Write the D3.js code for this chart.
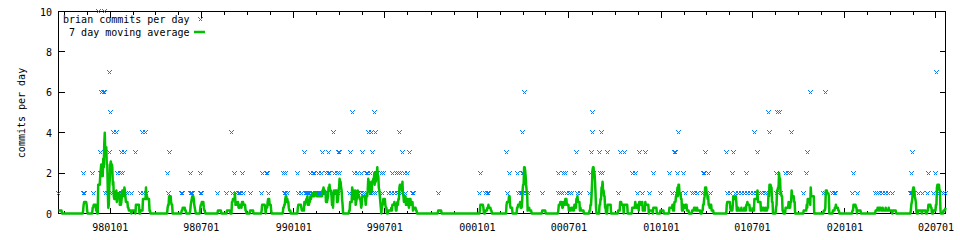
<!DOCTYPE html>
<html><head><meta charset="utf-8">
<script src="https://cdn.jsdelivr.net/npm/d3@7"></script>
<style>
html,body{margin:0;padding:0;background:#fff;}
svg{display:block;}
text{font-family:"DejaVu Sans Mono",monospace;font-size:10px;fill:#000;}
</style></head><body>
<svg id="chart" width="960" height="240"></svg>
<script>
// ---- data ----
const commitDates = [
"1997-09-20","1997-11-08","1997-11-09","1997-11-10","1997-11-27","1997-11-29",
"1997-12-08","1997-12-12","1997-12-13","1997-12-14","1997-12-15","1997-12-18","1997-12-20","1997-12-21","1997-12-23","1997-12-27","1997-12-29","1997-12-30","1997-12-31",
"1998-01-01","1998-01-02","1998-01-06","1998-01-07","1998-01-13","1998-01-15","1998-01-17","1998-01-21","1998-01-23","1998-01-24","1998-01-25","1998-01-29","1998-01-31",
"1998-02-05","1998-02-13","1998-02-21","1998-03-02","1998-03-07","1998-03-09","1998-03-13","1998-03-15",
"1998-04-25","1998-04-26","1998-04-28","1998-05-23","1998-05-25","1998-06-09","1998-06-10","1998-06-11","1998-06-12","1998-06-13","1998-06-29","1998-06-30",
"1998-07-02","1998-08-03","1998-08-21","1998-08-31","1998-09-02","1998-09-06","1998-09-08","1998-09-12","1998-09-14","1998-09-16","1998-09-20","1998-09-22",
"1998-10-06","1998-10-29","1998-10-30","1998-11-07","1998-11-10","1998-11-11","1998-12-11","1998-12-13","1998-12-15","1998-12-16","1998-12-19",
"1999-01-09","1999-01-10","1999-01-16","1999-01-22","1999-01-24","1999-01-26","1999-01-28","1999-01-30",
"1999-02-01","1999-02-02","1999-02-03","1999-02-05","1999-02-06","1999-02-07","1999-02-09","1999-02-10","1999-02-12","1999-02-13","1999-02-14","1999-02-16","1999-02-17","1999-02-19","1999-02-20","1999-02-21","1999-02-23","1999-02-24","1999-02-26","1999-02-27","1999-02-28",
"1999-03-01","1999-03-03","1999-03-05","1999-03-07","1999-03-09","1999-03-10","1999-03-11","1999-03-13","1999-03-16","1999-03-19","1999-03-21","1999-03-22","1999-03-25","1999-03-27","1999-03-29","1999-03-30","1999-03-31",
"1999-04-01","1999-04-02","1999-04-21","1999-04-23","1999-04-27",
"1999-05-02","1999-05-03","1999-05-05","1999-05-06","1999-05-07","1999-05-08","1999-05-09","1999-05-13","1999-05-16","1999-05-17","1999-05-20","1999-05-23","1999-05-24","1999-05-25","1999-05-26","1999-05-28","1999-05-29",
"1999-06-02","1999-06-03","1999-06-04","1999-06-05","1999-06-06","1999-06-08","1999-06-10","1999-06-12","1999-06-13","1999-06-14","1999-06-15","1999-06-16","1999-06-17","1999-06-25","1999-06-26","1999-06-28",
"1999-07-08","1999-07-14","1999-07-16","1999-07-20","1999-07-25","1999-07-26","1999-07-28","1999-07-30","1999-07-31",
"1999-08-01","1999-08-04","1999-08-05","1999-08-09","1999-08-11","1999-08-15","1999-08-19","1999-08-25","1999-08-27","1999-10-15",
"2000-01-06","2000-01-07","2000-01-17","2000-01-21","2000-01-23","2000-02-28","2000-02-29","2000-03-04",
"2000-03-20","2000-03-22","2000-03-26","2000-03-29","2000-03-30","2000-03-31","2000-04-01","2000-04-02","2000-04-03","2000-04-07","2000-04-11","2000-05-09",
"2000-06-10","2000-06-11","2000-06-14","2000-06-18","2000-06-20","2000-06-24","2000-06-26","2000-07-02","2000-07-06","2000-07-12","2000-07-16","2000-07-18","2000-07-24",
"2000-08-11","2000-08-13","2000-08-15","2000-08-16","2000-08-17","2000-08-18","2000-08-31","2000-09-02","2000-09-04","2000-09-06","2000-09-16",
"2000-10-07","2000-10-11","2000-10-19","2000-11-04","2000-11-10","2000-11-14","2000-11-18","2000-11-24","2000-11-30","2000-12-08","2000-12-16","2000-12-30",
"2001-01-17","2001-01-23","2001-01-27","2001-01-30","2001-02-01","2001-02-02","2001-02-04","2001-02-08","2001-02-14","2001-02-18",
"2001-03-03","2001-03-07","2001-03-13","2001-03-23","2001-03-25","2001-03-27","2001-03-28","2001-03-29","2001-03-31","2001-04-04","2001-04-08",
"2001-05-11","2001-05-12","2001-05-18","2001-05-23","2001-05-24","2001-05-28","2001-06-03","2001-06-09","2001-06-15","2001-06-19","2001-06-21","2001-06-27",
"2001-07-03","2001-07-05","2001-07-10","2001-07-11","2001-07-17","2001-07-21","2001-07-27","2001-07-31","2001-08-02","2001-08-04",
"2001-08-17","2001-08-18","2001-08-19","2001-08-21","2001-08-23","2001-08-25","2001-09-05","2001-09-11","2001-09-15","2001-09-17",
"2001-10-11","2001-10-17","2001-10-19","2001-10-25","2001-11-20","2001-11-23","2001-11-24","2001-12-08","2001-12-12","2001-12-14",
"2002-01-16","2002-01-18","2002-01-26","2002-03-03","2002-03-07","2002-03-11","2002-03-17","2002-03-23","2002-03-29","2002-04-06",
"2002-05-12","2002-05-13","2002-05-14","2002-05-15","2002-05-16","2002-05-17","2002-05-27","2002-06-04","2002-06-14","2002-06-16","2002-06-26",
"2002-07-01","2002-07-03","2002-07-04","2002-07-16","2002-07-20"
];
const commitCounts = [
1,1,2,1,2,1,
10,3,2,2,6,6,10,6,1,1,1,7,3,
5,1,1,4,4,2,1,2,1,3,2,3,1,
1,1,3,1,4,1,4,1,
2,1,3,1,1,1,2,1,1,1,2,1,
1,1,1,4,1,2,1,1,1,1,2,1,
1,1,2,2,2,1,2,1,2,1,1,
2,1,1,3,1,1,1,1,
1,1,2,1,1,1,2,1,2,1,1,1,1,2,1,1,1,1,2,3,1,
1,1,1,2,1,2,3,2,1,1,4,2,1,1,2,1,3,
2,3,1,3,5,
2,1,1,1,1,2,1,1,2,3,1,1,1,2,2,2,4,
1,2,4,1,3,1,5,4,1,2,2,2,2,2,1,2,
1,1,2,1,2,1,2,4,1,
2,1,3,2,1,2,3,1,1,1,
1,2,1,1,1,3,1,2,
2,1,1,1,2,4,2,1,6,1,1,1,
1,2,1,1,2,2,1,1,1,2,3,1,1,
1,2,3,4,5,2,3,2,4,2,3,
1,3,3,2,2,1,3,1,3,1,2,1,
2,1,3,3,1,2,4,1,2,1,
1,1,1,1,2,2,1,3,1,2,1,
3,1,1,2,3,1,1,1,1,2,1,1,
1,4,1,3,1,1,1,1,5,4,
2,1,5,1,5,1,2,2,2,4,
1,2,3,6,1,1,6,1,1,1,
1,2,1,1,1,1,1,1,1,1,
1,2,1,1,3,1,1,1,1,2,1,
2,7,1,1,1
];
const xTickLabels = ["980101","980701","990101","990701","000101","000701","010101","010701","020101","020701"];
const yTickValues = [0, 2, 4, 6, 8, 10];
const seriesNames = ["brian commits per day", "7 day moving average"];
const yAxisTitle = "commits per day";
const windowDays = 7;

// ---- build ----
const parseISO = d3.utcParse("%Y-%m-%d");
const parseTick = d3.utcParse("%y%m%d");
const commits = commitDates.map((d, i) => ({date: parseISO(d), value: commitCounts[i]}));
const byDay = new Map(commits.map(c => [+c.date, c.value]));
const [first, last] = d3.extent(commits, c => c.date);
const days = d3.utcDay.range(first, d3.utcDay.offset(last, 1));
const daily = days.map(d => byDay.get(+d) || 0);
const movingAvg = days.map((d, i) => {
  const lo = Math.max(0, i - windowDays + 1);
  return {date: d, value: d3.sum(daily.slice(lo, i + 1)) / windowDays};
});

const L = 58.5, R = 945.5, T = 11.5, B = 213.5;
const svg = d3.select("#chart");
const x = d3.scaleUtc().domain([first, last]).range([L, R]);
const y = d3.scaleLinear().domain([0, 10]).range([B, T]);

const majorTicks = xTickLabels.map(parseTick);
const ext = [d3.utcMonth.offset(majorTicks[0], -6), ...majorTicks, d3.utcMonth.offset(majorTicks[majorTicks.length - 1], 6)];
const minorTicks = [];
for (let i = 0; i < ext.length - 1; i++) {
  for (let k = 1; k < 4; k++) {
    const m = new Date(+ext[i] + (ext[i + 1] - ext[i]) * k / 4);
    if (m > first && m < last) minorTicks.push(m);
  }
}

const px = v => Math.round(v - 0.5) + 0.5;
const xs = v => px(x(v));
const ys = v => px(y(v));
const fmt = d3.utcFormat("%y%m%d");

const g = svg.append("g").attr("shape-rendering", "crispEdges");
function tickLines(vals, len, bottom) {
  g.append("g").selectAll("line").data(vals).join("line")
    .attr("x1", d => xs(d)).attr("x2", d => xs(d))
    .attr("y1", bottom ? B : T).attr("y2", bottom ? B - len : T + len)
    .attr("stroke", "#000");
}
tickLines(majorTicks, 6, true); tickLines(majorTicks, 6, false);
tickLines(minorTicks, 3, true); tickLines(minorTicks, 3, false);
g.append("g").selectAll("line").data(yTickValues).join("line")
  .attr("x1", L).attr("x2", L + 6).attr("y1", d => ys(d)).attr("y2", d => ys(d)).attr("stroke", "#000");
g.append("g").selectAll("line").data(yTickValues).join("line")
  .attr("x1", R).attr("x2", R - 6).attr("y1", d => ys(d)).attr("y2", d => ys(d)).attr("stroke", "#000");

svg.append("g").selectAll("text").data(majorTicks).join("text")
  .attr("x", d => x(d)).attr("y", 231).attr("text-anchor", "middle").text(d => fmt(d));
svg.append("g").selectAll("text").data(yTickValues).join("text")
  .attr("x", 52).attr("y", d => y(d) + 4).attr("text-anchor", "end").text(d => d);

svg.append("text").attr("transform", "translate(24.5,113) rotate(-90)")
  .attr("text-anchor", "middle").text(yAxisTitle);

// commits as crosses
const crossPath = (cx, cy) => `M${cx-2},${cy-2}L${cx+2},${cy+2}M${cx-2},${cy+2}L${cx+2},${cy-2}`;
svg.append("g").attr("shape-rendering", "crispEdges").selectAll("path").data(commits).join("path")
  .attr("d", d => crossPath(xs(d.date), ys(d.value)))
  .attr("stroke", "#0080ff").attr("stroke-width", 1).attr("fill", "none");

// moving average line
const line = d3.line().x(d => x(d.date)).y(d => y(d.value));
svg.append("path").datum(movingAvg).attr("d", line)
  .attr("fill", "none").attr("stroke", "#00c000").attr("stroke-width", 2.5).attr("stroke-linejoin", "round");

// frame
g.append("rect").attr("x", L).attr("y", T).attr("width", R - L).attr("height", B - T)
  .attr("fill", "none").attr("stroke", "#000");

// legend
const lg = svg.append("g");
lg.append("text").attr("x", 189.5).attr("y", 23).attr("text-anchor", "end").text(seriesNames[0]);
lg.append("text").attr("x", 189.5).attr("y", 36).attr("text-anchor", "end").text(seriesNames[1]);
lg.append("path").attr("d", crossPath(200.5, 19.5)).attr("stroke", "#0080ff").attr("fill", "none").attr("shape-rendering", "crispEdges");
lg.append("line").attr("x1", 194).attr("x2", 205).attr("y1", 32).attr("y2", 32)
  .attr("stroke", "#00c000").attr("stroke-width", 2.5);
</script>
</body></html>
